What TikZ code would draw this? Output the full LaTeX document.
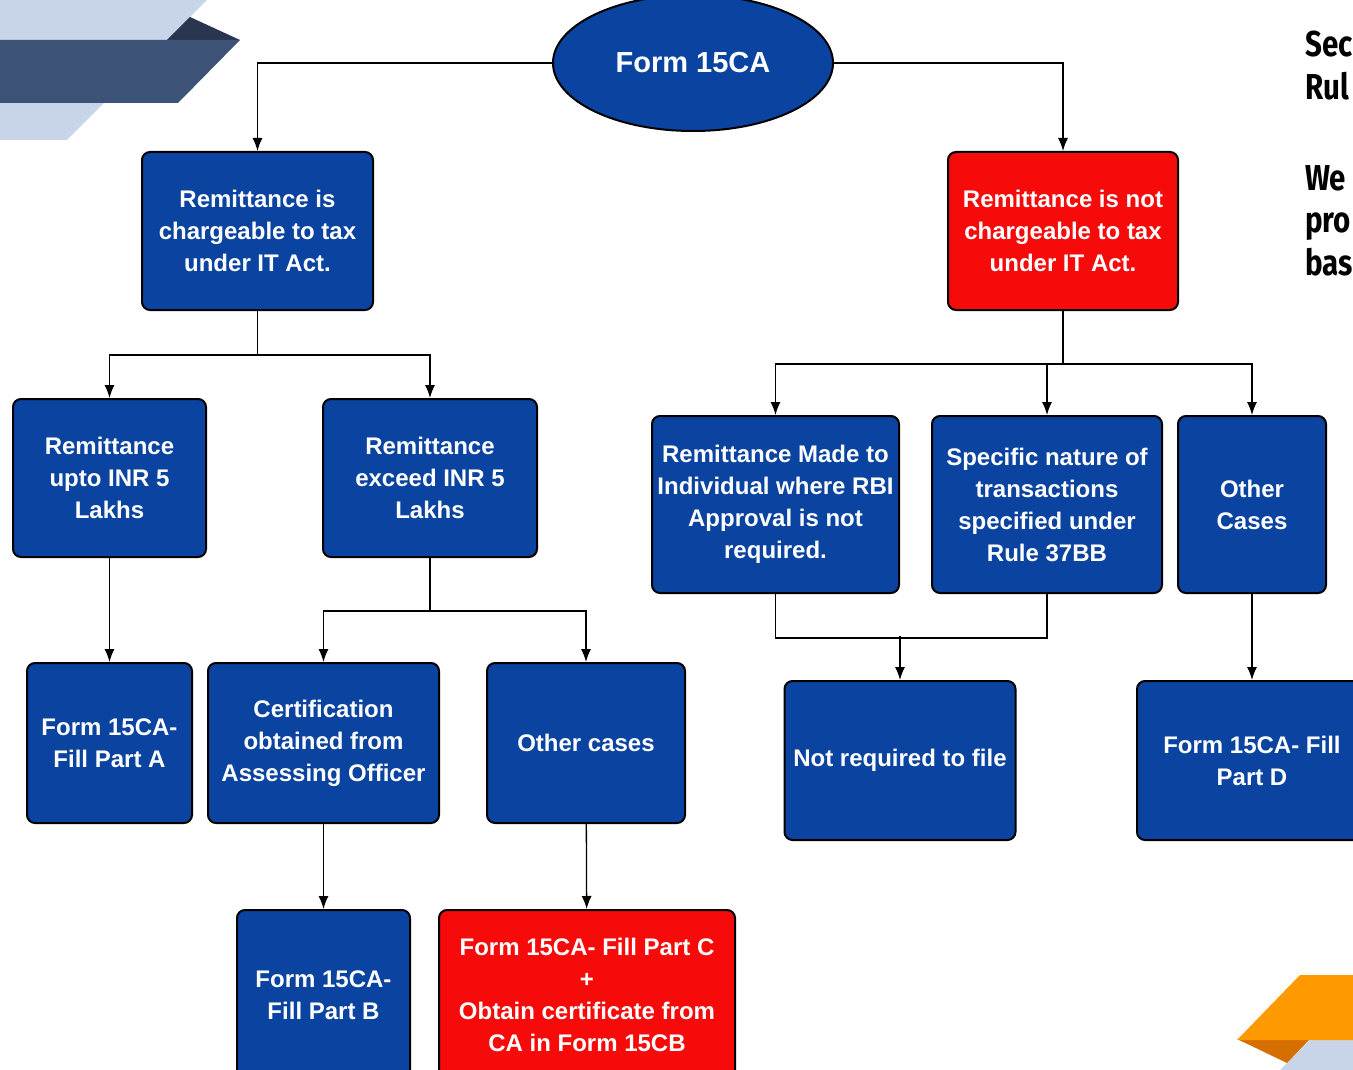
\documentclass[tikz,border=0pt]{standalone}
\usepackage{fontspec}
\setmainfont{Liberation Sans}
\newfontfamily\sidefont[FakeStretch=0.82]{Fira Sans}
\usetikzlibrary{arrows.meta, shapes.geometric}

\definecolor{boxblue}{HTML}{0B44A0}
\definecolor{boxred}{HTML}{F70A0A}
\definecolor{decolight}{HTML}{C8D5E8}
\definecolor{deconavy}{HTML}{3D5277}
\definecolor{decodark}{HTML}{2A3550}
\definecolor{decoorange}{HTML}{FF9900}
\definecolor{decoorangedark}{HTML}{D46F00}

\begin{document}
\begin{tikzpicture}[
        x=1pt, y=-1pt,
        box/.style={draw=black, line width=2pt, rounded corners=8pt, fill=boxblue,
            text=white, align=center, inner sep=0pt,
            font=\bfseries\fontsize{24}{32}\selectfont},
        redbox/.style={box, fill=boxred},
        sidetext/.style={anchor=base west, inner sep=0pt,
            font=\sidefont\bfseries\fontsize{36}{43}\selectfont},
        arrow/.style={-{Latex[length=13pt, width=10pt]}, line width=1.3pt}
        ]

        \useasboundingbox (0,0) rectangle (1353,1070);
        \clip (0,0) rectangle (1353,1070);

        % Corner decorations
        \fill[decolight] (0,0) -- (207,0) -- (67,140) -- (0,140) -- cycle;
        \fill[decodark] (167,40) -- (190,17) -- (240,40) -- cycle;
        \fill[deconavy] (0,40) -- (240,40) -- (178,103) -- (0,103) -- cycle;
        \fill[decolight] (1310,1040) -- (1353,1040) -- (1353,1070) -- (1280,1070) -- cycle;
        \fill[decoorangedark] (1237,1039) -- (1310,1039) -- (1287,1063) -- cycle;
        \fill[decoorange] (1300,975) -- (1353,975) -- (1353,1040) -- (1237,1040) -- cycle;

        % Nodes
        \node[box, ellipse, rounded corners=0pt, minimum width=280, minimum height=136,
            font=\bfseries\fontsize{29}{32}\selectfont] (form) at (693,63) {Form 15CA};

        \node[box, minimum width=231, minimum height=158] (chargeable) at (257.5,231)
            {Remittance is\\chargeable to tax\\under IT Act.};
        \node[redbox, minimum width=230, minimum height=158] (notchargeable) at (1063,231)
            {Remittance is not\\chargeable to tax\\under IT Act.};

        \node[box, minimum width=193, minimum height=158] (upto) at (109.5,478)
            {Remittance\\upto INR 5\\Lakhs};
        \node[box, minimum width=214, minimum height=158] (exceed) at (430,478)
            {Remittance\\exceed INR 5\\Lakhs};

        \node[box, minimum width=247, minimum height=177] (individual) at (775.5,504.5)
            {Remittance Made to\\Individual where RBI\\Approval is not\\required.};
        \node[box, minimum width=230, minimum height=177] (specific) at (1047,504.5)
            {Specific nature of\\transactions\\specified under\\Rule 37BB};
        \node[box, minimum width=148, minimum height=177] (othercases) at (1252,504.5)
            {Other\\Cases};

        \node[box, minimum width=165, minimum height=160] (partA) at (109.5,743)
            {Form 15CA-\\Fill Part A};
        \node[box, minimum width=231, minimum height=160] (certification) at (323.5,743)
            {Certification\\obtained from\\Assessing Officer};
        \node[box, minimum width=198, minimum height=160] (other) at (586,743)
            {Other cases};

        \node[box, minimum width=231, minimum height=159] (notrequired) at (900,760.5)
            {Not required to file};
        \node[box, minimum width=230, minimum height=159] (partD) at (1252,760.5)
            {Form 15CA- Fill\\Part D};

        \node[box, minimum width=173, minimum height=170] (partB) at (323.5,995)
            {Form 15CA-\\Fill Part B};
        \node[redbox, minimum width=296, minimum height=170] (partC) at (587,995)
            {Form 15CA- Fill Part C\\+\\Obtain certificate from\\CA in Form 15CB};

        % Side text, cut at the edge
        \node[sidetext] (sec) at (1305,57) {Sec};
        \node[sidetext] (rul) at (1305,100) {Rul};
        \node[sidetext] (we) at (1305,190) {We};
        \node[sidetext] (pro) at (1305,233) {pro};
        \node[sidetext] (bas) at (1305,275) {bas};

        % Connectors
        \draw [arrow] (form.west) -| (chargeable.north);
        \draw [arrow] (form.east) -| (notchargeable.north);

        \draw [arrow] (chargeable.south) -- ++(0,44) -| (upto.north);
        \draw [arrow] (chargeable.south) -- ++(0,44) -| (exceed.north);

        \draw [arrow] (notchargeable.south) -- ++(0,53) -| (individual.north);
        \draw [arrow] (notchargeable.south) -- ++(0,53) -| (specific.north);
        \draw [arrow] (notchargeable.south) -- ++(0,53) -| (othercases.north);

        \draw [arrow] (upto) -- (partA);
        \draw [arrow] (exceed.south) -- ++(0,53) -| (certification.north);
        \draw [arrow] (exceed.south) -- ++(0,53) -| (other.north);

        \draw [line width=1.3pt] (individual.south) -- ++(0,44) -| (specific.south);
        \draw [arrow] (notrequired.north) ++(0,-44) -- (notrequired.north);
        \draw [arrow] (othercases) -- (partD);

        \draw [arrow] (certification) -- (partB);
        \draw [arrow] (other) -- (partC);

\end{tikzpicture}
\end{document}
